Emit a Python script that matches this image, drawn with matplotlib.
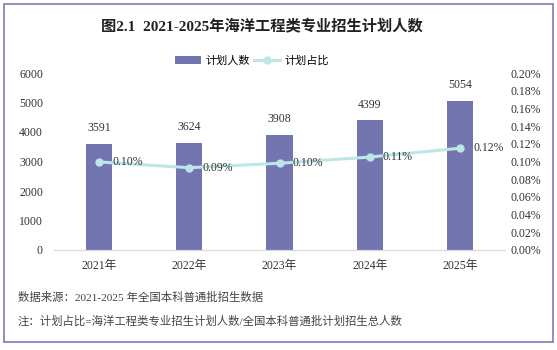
import matplotlib
matplotlib.use("Agg")
import matplotlib.pyplot as plt
from matplotlib.patches import Rectangle
from matplotlib.ticker import FuncFormatter

years = ["2021年", "2022年", "2023年", "2024年", "2025年"]
plan_counts = [3591, 3624, 3908, 4399, 5054]
plan_share = [0.0995, 0.093, 0.098, 0.105, 0.115]  # percent
share_labels = ["0.10%", "0.09%", "0.10%", "0.11%", "0.12%"]

FONT = ["Liberation Serif", "Noto Sans CJK SC"]
plt.rcParams["font.family"] = FONT

BAR = "#7275B0"
LINE = "#BDE6E6"
TXT = "#333333"


def main():
    fig = plt.figure(figsize=(5.57, 3.5), dpi=100)
    ax = fig.add_axes([54 / 557, 1 - 250 / 350, 451 / 557, 177 / 350])
    ax2 = ax.twinx()

    x = list(range(len(years)))
    bars = ax.bar(x, plan_counts, width=0.29, color=BAR, zorder=2, label="计划人数")
    for xi, v in zip(x, plan_counts):
        ax.annotate(str(v), (xi, v), xytext=(0, 7), textcoords="offset points",
                    ha="center", va="bottom", fontsize=8.5, color=TXT)

    line, = ax2.plot(x, plan_share, color=LINE, lw=2.2, marker="o", ms=5,
                     zorder=3, label="计划占比")
    for xi, v, lab in zip(x, plan_share, share_labels):
        ax2.annotate(lab, (xi, v), xytext=(9.5, 0), textcoords="offset points",
                     ha="left", va="center", fontsize=8.5, color=TXT)

    ax.set_xlim(-0.5, 4.5)
    ax.set_ylim(0, 6000)
    ax.set_yticks(range(0, 6001, 1000))
    ax2.set_ylim(0, 0.20)
    ax2.set_yticks([i * 0.02 for i in range(11)])
    ax2.yaxis.set_major_formatter(FuncFormatter(lambda v, p: f"{v:.2f}%"))

    ax.set_xticks(x)
    ax.set_xticklabels(years)
    for a in (ax, ax2):
        for s in ("top", "left", "right"):
            a.spines[s].set_visible(False)
        a.spines["bottom"].set_color("#D9D9D9")
        a.tick_params(length=0, labelsize=8.5, colors=TXT)
    ax.tick_params(axis="y", pad=8)
    ax2.tick_params(axis="y", pad=4)
    ax.tick_params(axis="x", pad=7)
    ax2.set_zorder(ax.get_zorder() + 1)
    ax2.patch.set_visible(False)

    fig.legend([bars, line], ["计划人数", "计划占比"], loc="center",
               bbox_to_anchor=(252 / 557, 1 - 61 / 350), ncol=2, frameon=False,
               fontsize=8, handlelength=2.4, handletextpad=0.4, columnspacing=0.3)

    fig.text(262 / 557, 1 - 27 / 350, "图2.1  2021-2025年海洋工程类专业招生计划人数",
             ha="center", va="center", fontsize=11, fontweight="bold", color="#222222")
    fig.text(18 / 557, 1 - 297 / 350, "数据来源：2021-2025 年全国本科普通批招生数据",
             ha="left", va="center", fontsize=8.2, color="#444444")
    fig.text(18 / 557, 1 - 321 / 350, "注：计划占比=海洋工程类专业招生计划人数/全国本科普通批计划招生总人数",
             ha="left", va="center", fontsize=8.2, color="#444444")

    fig.patches.append(Rectangle((4 / 557, 1 - 342 / 350), 549 / 557, 338 / 350,
                                 transform=fig.transFigure, fill=False,
                                 edgecolor="#7B7CB8", lw=1.2))

    fig.savefig("out.png", dpi=100)


if __name__ == "__main__":
    main()
